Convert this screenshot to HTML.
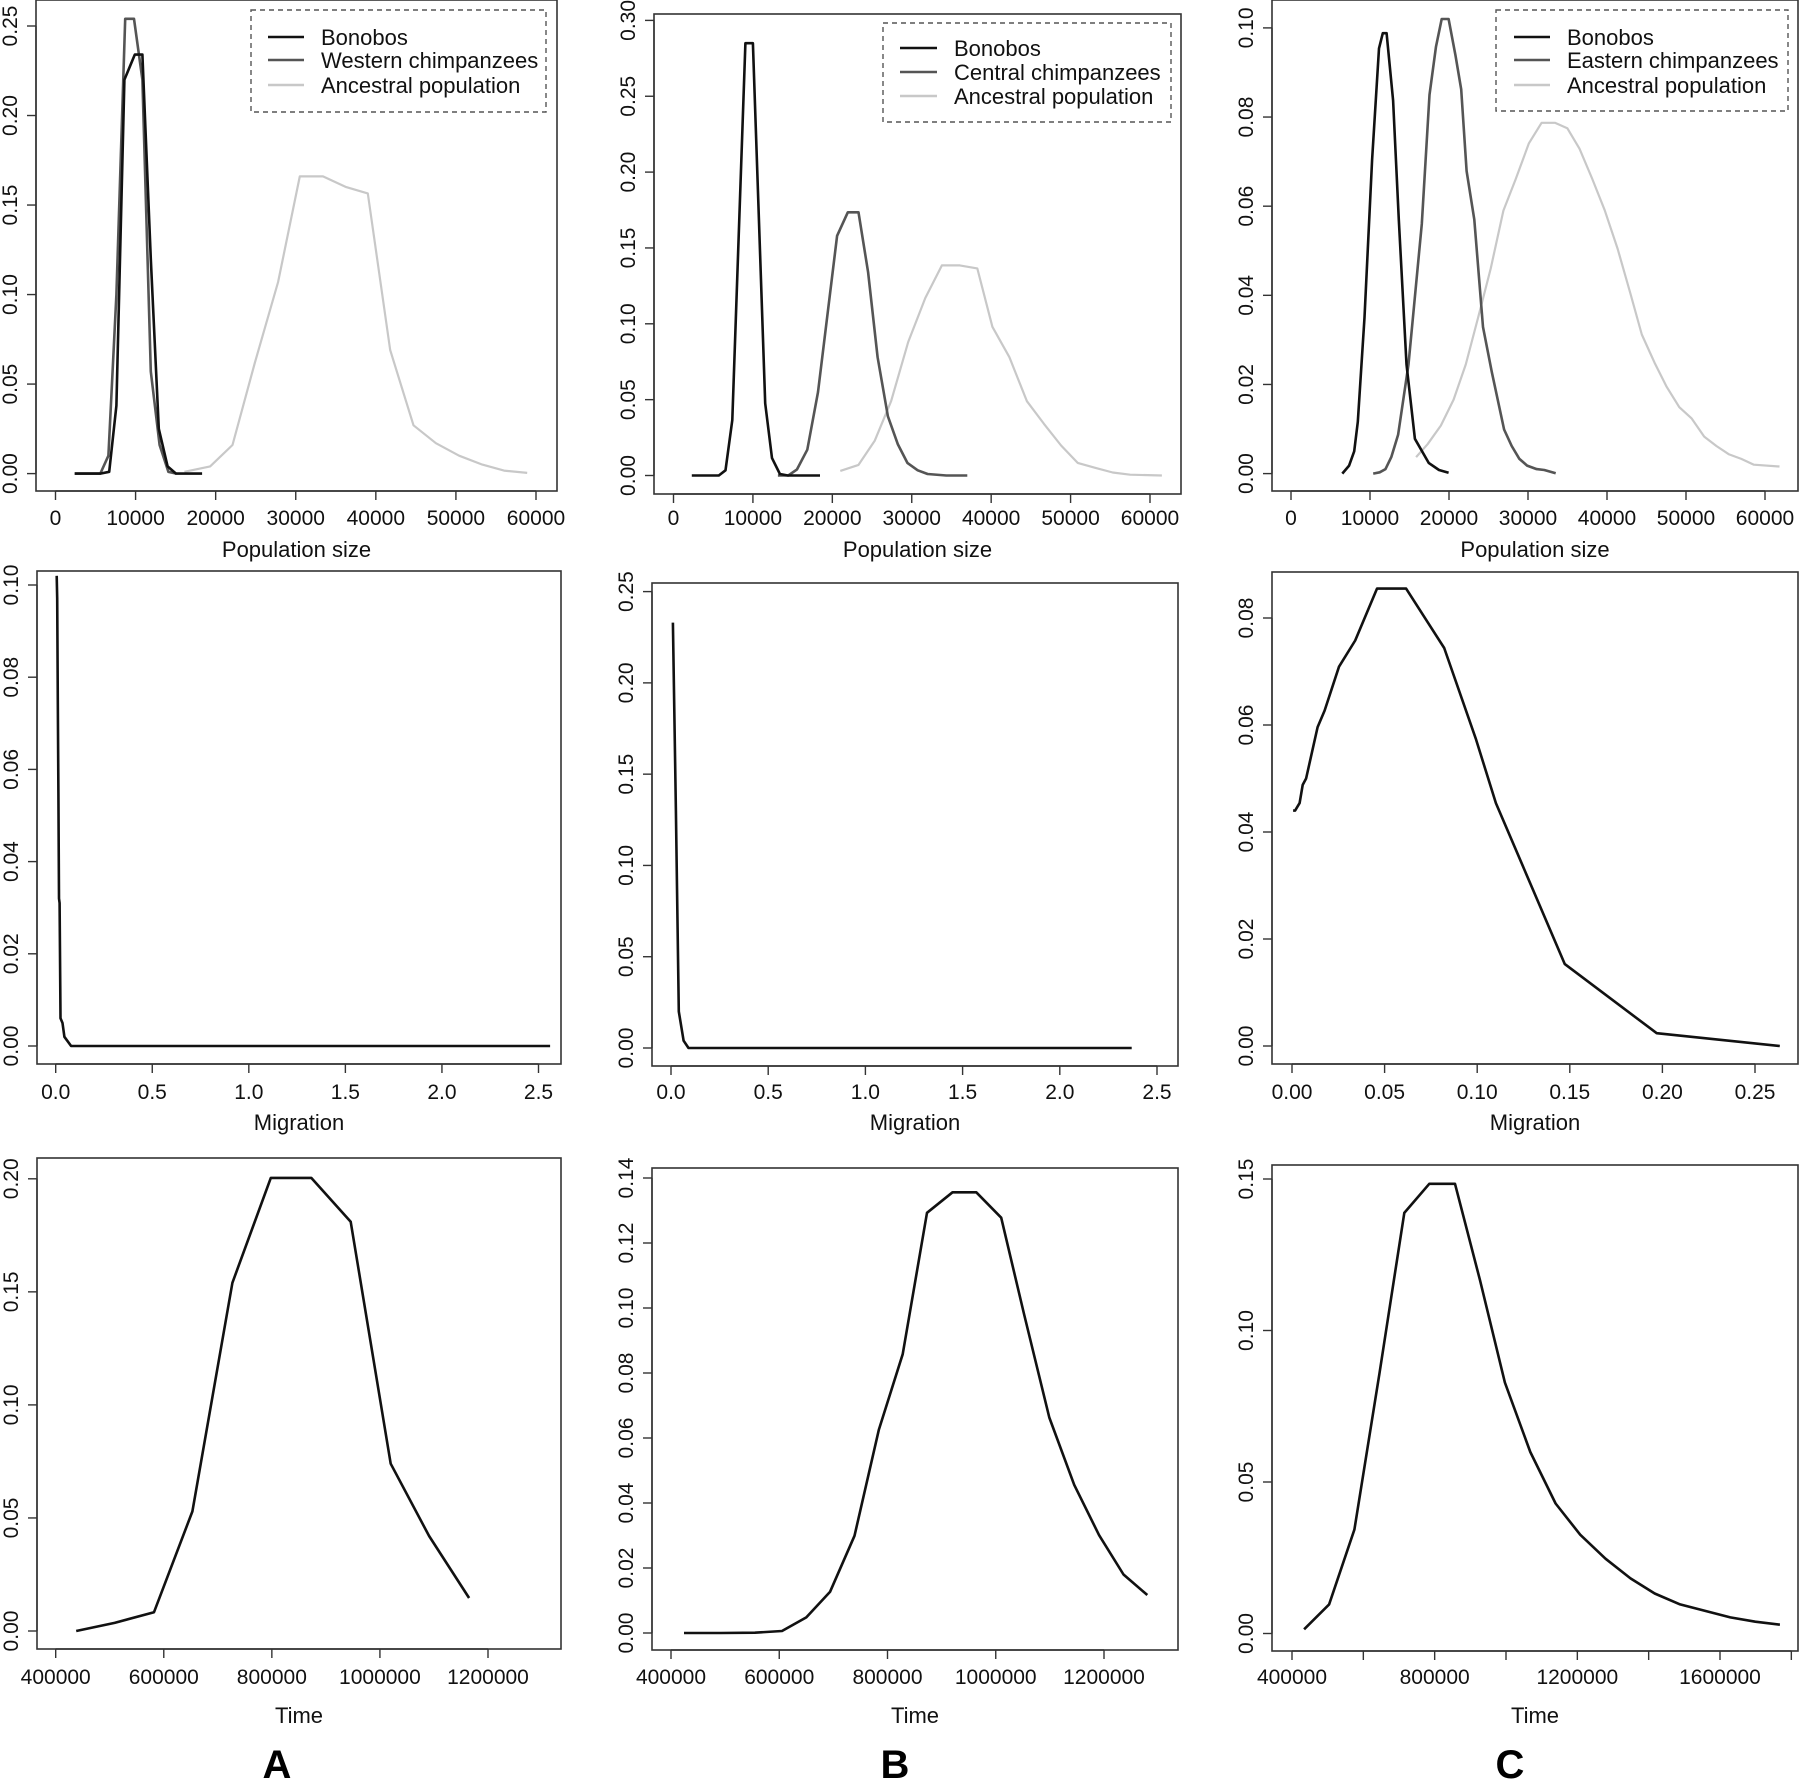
<!DOCTYPE html>
<html><head><meta charset="utf-8"><style>
html,body{margin:0;padding:0;background:#fff;}
svg{display:block;font-family:"Liberation Sans",Arial,sans-serif;}
</style></head><body>
<svg id="fig" width="1800" height="1781" viewBox="0 0 1800 1781" xmlns="http://www.w3.org/2000/svg"></svg>
<script>
// ---------- DATA ----------
const popA_bonobo_x=[2400,5600,6700,7600,8600,9900,10850,11900,12900,14000,15050,18300];
const popA_bonobo_y=[0,0,0.001,0.038,0.22,0.234,0.234,0.12,0.025,0.004,0,0];
const popA_chimp_x=[2400,5600,6600,7600,8700,9800,10850,11900,13000,14100,15100];
const popA_chimp_y=[0,0,0.01,0.10,0.254,0.254,0.22,0.057,0.016,0.001,0];
const popA_anc_x=[16100,19300,22100,24900,27800,30500,33400,36300,39000,41800,44700,47500,50400,53300,56000,58900];
const popA_anc_y=[0.001,0.004,0.016,0.062,0.107,0.166,0.166,0.160,0.1565,0.069,0.027,0.017,0.010,0.005,0.0017,0.0004];

const popB_bonobo_x=[2300,5700,6550,7400,9050,10000,11550,12400,13400,14400,18450];
const popB_bonobo_y=[0,0,0.0034,0.0365,0.285,0.285,0.0475,0.0115,0.001,0,0];
const popB_chimp_x=[13150,14450,15550,16850,18200,20600,21950,23300,24500,25700,27000,28250,29450,30750,32000,34350,37000];
const popB_chimp_y=[0,0,0.004,0.017,0.055,0.158,0.1735,0.1735,0.134,0.078,0.039,0.0205,0.0083,0.0034,0.001,0,0];
const popB_anc_x=[21000,23300,25350,27400,29550,31700,33800,36050,38250,40150,42300,44500,46650,48800,50900,53150,55300,57500,61500];
const popB_anc_y=[0.003,0.007,0.023,0.049,0.088,0.117,0.1385,0.1385,0.1365,0.098,0.078,0.049,0.034,0.0198,0.0083,0.005,0.002,0.0005,0];

const popC_bonobo_x=[6500,7350,8000,8450,9300,10270,11140,11620,12100,12930,13650,14620,15680,17430,18740,19950];
const popC_bonobo_y=[0,0.0018,0.005,0.0116,0.035,0.0704,0.0954,0.0988,0.0988,0.0837,0.057,0.0245,0.0078,0.0024,0.0008,0.0002];
const popC_chimp_x=[10400,11230,11960,12690,13560,14870,16560,17530,18350,19080,19950,20820,21550,22230,23200,24310,25420,26970,27940,28910,29880,31090,32060,33510];
const popC_chimp_y=[0,0.0003,0.001,0.0037,0.0087,0.0245,0.056,0.085,0.0958,0.102,0.102,0.0938,0.0862,0.0679,0.057,0.0329,0.0228,0.0099,0.0062,0.0033,0.0018,0.001,0.0008,0.0001];
const popC_anc_x=[15840,17290,18980,20580,22130,23680,25280,26880,28430,30120,31720,33410,34970,36520,38110,39710,41360,42960,44410,46010,47550,49150,50700,52300,53850,55450,57000,58600,61840];
const popC_anc_y=[0.0037,0.0066,0.0108,0.0166,0.0245,0.035,0.046,0.059,0.066,0.0741,0.0787,0.0787,0.0775,0.0729,0.0662,0.0591,0.0504,0.0404,0.0312,0.0249,0.0195,0.0149,0.0124,0.0083,0.0062,0.0043,0.0033,0.002,0.0016];

const migA_x=[0.005,0.008,0.011,0.014,0.017,0.02,0.025,0.035,0.045,0.08,2.56];
const migA_y=[0.102,0.097,0.075,0.055,0.032,0.031,0.006,0.005,0.002,0,0];
const migB_x=[0.01,0.025,0.04,0.065,0.09,2.37];
const migB_y=[0.233,0.13,0.02,0.004,0,0];
const migC_x=[0.0006,0.0017,0.0041,0.0058,0.0076,0.0138,0.0176,0.0254,0.0341,0.0459,0.0616,0.0822,0.0992,0.1101,0.1473,0.1969,0.2634];
const migC_y=[0.044,0.044,0.0454,0.0488,0.05,0.0596,0.0627,0.0709,0.0758,0.0855,0.0855,0.0744,0.0575,0.0454,0.0153,0.0024,0];

const timeA_x=[438000,509000,582000,653000,727000,798000,873000,946000,1020000,1091000,1165000];
const timeA_y=[0,0.0036,0.0083,0.0529,0.154,0.2004,0.2004,0.181,0.074,0.042,0.0146];
const timeB_x=[424000,492000,555000,605000,650000,694000,739000,784000,828000,873000,920000,964000,1010000,1052000,1099000,1145000,1191000,1236000,1280000];
const timeB_y=[0,0,0.0001,0.0006,0.0048,0.0127,0.0299,0.0625,0.0858,0.1293,0.1356,0.1356,0.1278,0.0983,0.0663,0.0456,0.0301,0.018,0.0117];
const timeC_x=[434000,504000,575000,645000,715000,785000,857000,927000,997000,1068000,1139000,1208000,1279000,1349000,1417000,1488000,1557000,1629000,1699000,1768000];
const timeC_y=[0.0014,0.0096,0.0343,0.0857,0.1388,0.1484,0.1484,0.1166,0.0828,0.0599,0.0429,0.0326,0.0247,0.0182,0.0132,0.0096,0.0075,0.0053,0.0039,0.0029];

const popXTicks=[0,10000,20000,30000,40000,50000,60000];
const migABXTicks=[0,0.5,1,1.5,2,2.5];
const migCXTicks=[0,0.05,0.1,0.15,0.2,0.25];
const timeABXTicks=[400000,600000,800000,1000000,1200000];
const timeCXTicks=[400000,600000,800000,1000000,1200000,1400000,1600000,1800000];
const timeCXLabels=[400000,800000,1200000,1600000];
const yTicksPopA=[0,0.05,0.1,0.15,0.2,0.25];
const yTicksPopB=[0,0.05,0.1,0.15,0.2,0.25,0.3];
const yTicksPopC=[0,0.02,0.04,0.06,0.08,0.1];
const yTicksMigA=[0,0.02,0.04,0.06,0.08,0.1];
const yTicksMigB=[0,0.05,0.1,0.15,0.2,0.25];
const yTicksMigC=[0,0.02,0.04,0.06,0.08];
const yTicksTimeA=[0,0.05,0.1,0.15,0.2];
const yTicksTimeB=[0,0.02,0.04,0.06,0.08,0.1,0.12,0.14];
const yTicksTimeC=[0,0.05,0.1,0.15];
const legendA=["Bonobos","Western chimpanzees","Ancestral population"];
const legendB=["Bonobos","Central chimpanzees","Ancestral population"];
const legendC=["Bonobos","Eastern chimpanzees","Ancestral population"];

// ---------- DRAW ----------
const NS="http://www.w3.org/2000/svg";
const svg=document.getElementById('fig');
function mk(tag,attrs,parent){const e=document.createElementNS(NS,tag);for(const k in attrs)e.setAttribute(k,attrs[k]);(parent||svg).appendChild(e);return e;}
function lin(d0,d1,r0,r1){return v=>r0+(v-d0)/(d1-d0)*(r1-r0);}
const COLORS=["#111","#555","#c8c8c8"];

function panel(p){
  const g=mk('g',{});
  
  
  const sx=lin(p.xd[0],p.xd[1],p.xr[0],p.xr[1]);
  const sy=lin(p.yd[0],p.yd[1],p.yr[0],p.yr[1]);
  const box=mk('rect',{x:p.box[0],y:p.box[1],width:p.box[2]-p.box[0],height:p.box[3]-p.box[1],fill:'none',stroke:'#333','stroke-width':1.6},g);
  
  
  p.series.forEach((s,i)=>{
    const pts=s.x.map((v,j)=>sx(v).toFixed(1)+','+sy(s.y[j]).toFixed(1)).join(' ');
    const pl=mk('polyline',{points:pts,fill:'none',stroke:s.color,'stroke-width':s.color==='#c8c8c8'?2.2:2.6,'stroke-linejoin':'round'},g);
    
    
  });
  const xb=p.box[3];
  const xa=mk('g',{},g);
  
  
  mk('line',{x1:sx(p.xt[0]),x2:sx(p.xt[p.xt.length-1]),y1:xb,y2:xb,stroke:'#333','stroke-width':1.4},xa);
  p.xt.forEach(v=>{mk('line',{x1:sx(v),x2:sx(v),y1:xb,y2:xb+9,stroke:'#333','stroke-width':1.4},xa);});
  (p.xl||p.xt).forEach(v=>{
    const t=mk('text',{x:sx(v),y:p.xlabY,'text-anchor':'middle','font-size':21,fill:'#111'},xa);
    t.textContent=p.xfmt(v);
    
    
  });
  const xt=mk('text',{x:(p.box[0]+p.box[2])/2,y:p.xtitleY,'text-anchor':'middle','font-size':22,fill:'#111'},g);
  xt.textContent=p.xtitle;
  
  
  const ya=mk('g',{},g);
  
  
  const xl=p.box[0];
  mk('line',{x1:xl,x2:xl,y1:sy(p.yt[0]),y2:sy(p.yt[p.yt.length-1]),stroke:'#333','stroke-width':1.4},ya);
  p.yt.forEach(v=>{
    mk('line',{x1:xl-9,x2:xl,y1:sy(v),y2:sy(v),stroke:'#333','stroke-width':1.4},ya);
    const tx=xl-19,ty=sy(v);
    const t=mk('text',{x:tx,y:ty,'text-anchor':'middle','font-size':21,fill:'#111',transform:`rotate(-90 ${tx} ${ty})`},ya);
    t.textContent=v.toFixed(2);
    
    
  });
  if(p.legend){
    const L=p.legend;
    const lg=mk('g',{},g);
    
    
    mk('rect',{x:L.x0,y:L.y0,width:L.x1-L.x0,height:L.y1-L.y0,fill:'#fff',stroke:'#555','stroke-width':1.4,'stroke-dasharray':'5,4'},lg);
    L.labels.forEach((lab,i)=>{
      const ry=L.rows[i];
      const e=mk('g',{},lg);
      
      
      mk('line',{x1:L.lx0,x2:L.lx1,y1:ry,y2:ry,stroke:COLORS[i],'stroke-width':2.6},e);
      const t=mk('text',{x:L.tx,y:ry+8,'font-size':22,fill:'#111'},e);
      t.textContent=lab;
    });
  }
}
const fmtInt=v=>String(v);
const fmt1=v=>v.toFixed(1);
const fmt2=v=>v.toFixed(2);

panel({name:'panel-a-population',box:[36,0,557,491],xd:[0,60000],xr:[55.5,536],yd:[0,0.25],yr:[473.6,26],
  xt:popXTicks,xfmt:fmtInt,xlabY:525,xtitleY:557,xtitle:'Population size',yt:yTicksPopA,
  series:[{name:'ancestral-line',x:popA_anc_x,y:popA_anc_y,color:COLORS[2]},{name:'western-chimp-line',x:popA_chimp_x,y:popA_chimp_y,color:COLORS[1]},{name:'bonobo-line',x:popA_bonobo_x,y:popA_bonobo_y,color:COLORS[0]}],
  legend:{x0:251,x1:546,y0:10,y1:112,lx0:268,lx1:304,tx:321,rows:[37,60,85],labels:legendA}});
panel({name:'panel-b-population',box:[654,14,1181,494],xd:[0,60000],xr:[673.5,1150],yd:[0,0.30],yr:[475.5,20.4],
  xt:popXTicks,xfmt:fmtInt,xlabY:525,xtitleY:557,xtitle:'Population size',yt:yTicksPopB,
  series:[{name:'ancestral-line',x:popB_anc_x,y:popB_anc_y,color:COLORS[2]},{name:'central-chimp-line',x:popB_chimp_x,y:popB_chimp_y,color:COLORS[1]},{name:'bonobo-line',x:popB_bonobo_x,y:popB_bonobo_y,color:COLORS[0]}],
  legend:{x0:883,x1:1171,y0:23,y1:122,lx0:900,lx1:937,tx:954,rows:[48,72,96],labels:legendB}});
panel({name:'panel-c-population',box:[1272,0,1798,491],xd:[0,60000],xr:[1291,1765],yd:[0,0.10],yr:[473.6,27.9],
  xt:popXTicks,xfmt:fmtInt,xlabY:525,xtitleY:557,xtitle:'Population size',yt:yTicksPopC,
  series:[{name:'ancestral-line',x:popC_anc_x,y:popC_anc_y,color:COLORS[2]},{name:'eastern-chimp-line',x:popC_chimp_x,y:popC_chimp_y,color:COLORS[1]},{name:'bonobo-line',x:popC_bonobo_x,y:popC_bonobo_y,color:COLORS[0]}],
  legend:{x0:1496,x1:1788,y0:10,y1:111,lx0:1514,lx1:1550,tx:1567,rows:[37,60,85],labels:legendC}});
panel({name:'panel-a-migration',box:[37,571,561,1064],xd:[0,2.5],xr:[55.7,538.5],yd:[0,0.10],yr:[1046,585],
  xt:migABXTicks,xfmt:fmt1,xlabY:1099,xtitleY:1130,xtitle:'Migration',yt:yTicksMigA,
  series:[{name:'migration-line',x:migA_x,y:migA_y,color:COLORS[0]}]});
panel({name:'panel-b-migration',box:[652,583,1178,1066],xd:[0,2.5],xr:[671,1157],yd:[0,0.25],yr:[1048,591.6],
  xt:migABXTicks,xfmt:fmt1,xlabY:1099,xtitleY:1130,xtitle:'Migration',yt:yTicksMigB,
  series:[{name:'migration-line',x:migB_x,y:migB_y,color:COLORS[0]}]});
panel({name:'panel-c-migration',box:[1272,572,1798,1064],xd:[0,0.25],xr:[1292,1755],yd:[0,0.08],yr:[1046,618],
  xt:migCXTicks,xfmt:fmt2,xlabY:1099,xtitleY:1130,xtitle:'Migration',yt:yTicksMigC,
  series:[{name:'migration-line',x:migC_x,y:migC_y,color:COLORS[0]}]});
panel({name:'panel-a-time',box:[37,1158,561,1649],xd:[400000,1200000],xr:[55.7,488],yd:[0,0.20],yr:[1631,1178.8],
  xt:timeABXTicks,xfmt:fmtInt,xlabY:1684,xtitleY:1723,xtitle:'Time',yt:yTicksTimeA,
  series:[{name:'time-line',x:timeA_x,y:timeA_y,color:COLORS[0]}]});
panel({name:'panel-b-time',box:[652,1168,1178,1650],xd:[400000,1200000],xr:[671,1104],yd:[0,0.14],yr:[1633,1178],
  xt:timeABXTicks,xfmt:fmtInt,xlabY:1684,xtitleY:1723,xtitle:'Time',yt:yTicksTimeB,
  series:[{name:'time-line',x:timeB_x,y:timeB_y,color:COLORS[0]}]});
panel({name:'panel-c-time',box:[1272,1165,1798,1651],xd:[400000,1600000],xr:[1292,1720],yd:[0,0.15],yr:[1633.5,1179],
  xt:timeCXTicks,xl:timeCXLabels,xfmt:fmtInt,xlabY:1684,xtitleY:1723,xtitle:'Time',yt:yTicksTimeC,
  series:[{name:'time-line',x:timeC_x,y:timeC_y,color:COLORS[0]}]});
[['A',277],['B',895],['C',1510]].forEach(([l,x])=>{
  const t=mk('text',{x:x,y:1778,'text-anchor':'middle','font-size':40,'font-weight':'bold',fill:'#000'});
  t.textContent=l;
  
  
});
</script>
</body></html>
